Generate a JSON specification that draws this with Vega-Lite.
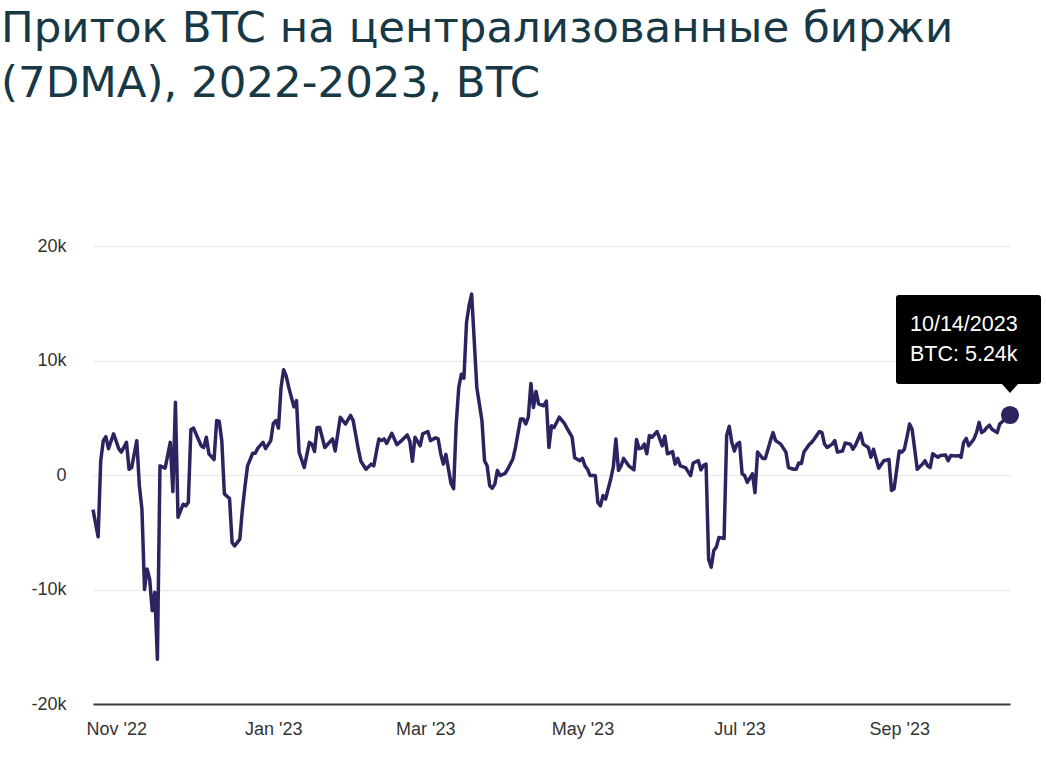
{
  "$schema": "https://vega.github.io/schema/vega-lite/v6.json",
  "autosize": "none",
  "width": 917,
  "height": 458,
  "padding": {"left": 93, "top": 246, "right": 36, "bottom": 54},
  "background": "white",
  "title": {
    "text": ["Приток BTC на централизованные биржи", "(7DMA), 2022-2023, BTC"],
    "anchor": "start",
    "frame": "group",
    "orient": "top",
    "baseline": "top",
    "font": "DejaVu Sans",
    "fontSize": 43.5,
    "fontWeight": 400,
    "lineHeight": 55,
    "color": "#173845",
    "dx": -92,
    "offset": 131
  },
  "datasets": {
    "flow": [
      {"date": "2022-10-23", "btc": -3030},
      {"date": "2022-10-25", "btc": -5400},
      {"date": "2022-10-26", "btc": 1250},
      {"date": "2022-10-27", "btc": 3000},
      {"date": "2022-10-28", "btc": 3350},
      {"date": "2022-10-29", "btc": 2300},
      {"date": "2022-10-31", "btc": 3600},
      {"date": "2022-11-02", "btc": 2300},
      {"date": "2022-11-03", "btc": 2000},
      {"date": "2022-11-05", "btc": 2850},
      {"date": "2022-11-06", "btc": 500},
      {"date": "2022-11-07", "btc": 650},
      {"date": "2022-11-09", "btc": 3000},
      {"date": "2022-11-10", "btc": -930},
      {"date": "2022-11-11", "btc": -3000},
      {"date": "2022-11-12", "btc": -10000},
      {"date": "2022-11-13", "btc": -8200},
      {"date": "2022-11-14", "btc": -9100},
      {"date": "2022-11-15", "btc": -11850},
      {"date": "2022-11-16", "btc": -10250},
      {"date": "2022-11-17", "btc": -16100},
      {"date": "2022-11-18", "btc": 800},
      {"date": "2022-11-20", "btc": 600},
      {"date": "2022-11-22", "btc": 2850},
      {"date": "2022-11-23", "btc": -1450},
      {"date": "2022-11-24", "btc": 6350},
      {"date": "2022-11-25", "btc": -3700},
      {"date": "2022-11-27", "btc": -2550},
      {"date": "2022-11-28", "btc": -2700},
      {"date": "2022-11-29", "btc": -2400},
      {"date": "2022-11-30", "btc": 3950},
      {"date": "2022-12-01", "btc": 4100},
      {"date": "2022-12-04", "btc": 2550},
      {"date": "2022-12-05", "btc": 2400},
      {"date": "2022-12-06", "btc": 3300},
      {"date": "2022-12-07", "btc": 1850},
      {"date": "2022-12-09", "btc": 1350},
      {"date": "2022-12-10", "btc": 4750},
      {"date": "2022-12-11", "btc": 4700},
      {"date": "2022-12-12", "btc": 3000},
      {"date": "2022-12-13", "btc": -1650},
      {"date": "2022-12-15", "btc": -2050},
      {"date": "2022-12-16", "btc": -5900},
      {"date": "2022-12-17", "btc": -6200},
      {"date": "2022-12-19", "btc": -5600},
      {"date": "2022-12-20", "btc": -3000},
      {"date": "2022-12-21", "btc": -1000},
      {"date": "2022-12-22", "btc": 800},
      {"date": "2022-12-24", "btc": 1900},
      {"date": "2022-12-25", "btc": 1900},
      {"date": "2022-12-26", "btc": 2350},
      {"date": "2022-12-28", "btc": 2850},
      {"date": "2022-12-29", "btc": 2300},
      {"date": "2022-12-31", "btc": 3000},
      {"date": "2023-01-01", "btc": 4500},
      {"date": "2023-01-02", "btc": 4750},
      {"date": "2023-01-03", "btc": 4100},
      {"date": "2023-01-04", "btc": 7650},
      {"date": "2023-01-05", "btc": 9200},
      {"date": "2023-01-06", "btc": 8650},
      {"date": "2023-01-07", "btc": 7650},
      {"date": "2023-01-09", "btc": 5950},
      {"date": "2023-01-10", "btc": 6500},
      {"date": "2023-01-11", "btc": 2000},
      {"date": "2023-01-13", "btc": 650},
      {"date": "2023-01-15", "btc": 2850},
      {"date": "2023-01-16", "btc": 2700},
      {"date": "2023-01-17", "btc": 2050},
      {"date": "2023-01-18", "btc": 4150},
      {"date": "2023-01-19", "btc": 4150},
      {"date": "2023-01-21", "btc": 2400},
      {"date": "2023-01-24", "btc": 3150},
      {"date": "2023-01-25", "btc": 2100},
      {"date": "2023-01-27", "btc": 5050},
      {"date": "2023-01-29", "btc": 4450},
      {"date": "2023-01-31", "btc": 5200},
      {"date": "2023-02-01", "btc": 4750},
      {"date": "2023-02-03", "btc": 2250},
      {"date": "2023-02-04", "btc": 1200},
      {"date": "2023-02-06", "btc": 500},
      {"date": "2023-02-08", "btc": 950},
      {"date": "2023-02-09", "btc": 800},
      {"date": "2023-02-10", "btc": 2000},
      {"date": "2023-02-11", "btc": 3150},
      {"date": "2023-02-12", "btc": 3000},
      {"date": "2023-02-13", "btc": 3150},
      {"date": "2023-02-14", "btc": 2750},
      {"date": "2023-02-16", "btc": 3650},
      {"date": "2023-02-18", "btc": 2650},
      {"date": "2023-02-20", "btc": 3050},
      {"date": "2023-02-22", "btc": 3500},
      {"date": "2023-02-23", "btc": 2950},
      {"date": "2023-02-24", "btc": 1200},
      {"date": "2023-02-25", "btc": 3300},
      {"date": "2023-02-27", "btc": 2550},
      {"date": "2023-02-28", "btc": 3600},
      {"date": "2023-03-02", "btc": 3800},
      {"date": "2023-03-03", "btc": 3000},
      {"date": "2023-03-05", "btc": 3250},
      {"date": "2023-03-06", "btc": 3150},
      {"date": "2023-03-07", "btc": 1850},
      {"date": "2023-03-08", "btc": 950},
      {"date": "2023-03-09", "btc": 1800},
      {"date": "2023-03-11", "btc": -750},
      {"date": "2023-03-12", "btc": -1200},
      {"date": "2023-03-13", "btc": 4450},
      {"date": "2023-03-14", "btc": 7650},
      {"date": "2023-03-15", "btc": 8800},
      {"date": "2023-03-16", "btc": 8450},
      {"date": "2023-03-17", "btc": 13300},
      {"date": "2023-03-18", "btc": 14800},
      {"date": "2023-03-19", "btc": 15800},
      {"date": "2023-03-20", "btc": 11750},
      {"date": "2023-03-21", "btc": 7650},
      {"date": "2023-03-23", "btc": 4750},
      {"date": "2023-03-24", "btc": 1250},
      {"date": "2023-03-25", "btc": 800},
      {"date": "2023-03-26", "btc": -930},
      {"date": "2023-03-27", "btc": -1150},
      {"date": "2023-03-28", "btc": -800},
      {"date": "2023-03-29", "btc": 400},
      {"date": "2023-03-30", "btc": -50},
      {"date": "2023-04-01", "btc": 150},
      {"date": "2023-04-02", "btc": 500},
      {"date": "2023-04-04", "btc": 1400},
      {"date": "2023-04-05", "btc": 2400},
      {"date": "2023-04-07", "btc": 4900},
      {"date": "2023-04-08", "btc": 4900},
      {"date": "2023-04-09", "btc": 4450},
      {"date": "2023-04-10", "btc": 5050},
      {"date": "2023-04-11", "btc": 8000},
      {"date": "2023-04-12", "btc": 5900},
      {"date": "2023-04-13", "btc": 7300},
      {"date": "2023-04-14", "btc": 6200},
      {"date": "2023-04-16", "btc": 6050},
      {"date": "2023-04-17", "btc": 6450},
      {"date": "2023-04-18", "btc": 2400},
      {"date": "2023-04-19", "btc": 4300},
      {"date": "2023-04-20", "btc": 4150},
      {"date": "2023-04-22", "btc": 5050},
      {"date": "2023-04-24", "btc": 4500},
      {"date": "2023-04-25", "btc": 4100},
      {"date": "2023-04-27", "btc": 3300},
      {"date": "2023-04-28", "btc": 1500},
      {"date": "2023-04-30", "btc": 1250},
      {"date": "2023-05-01", "btc": 1450},
      {"date": "2023-05-02", "btc": 800},
      {"date": "2023-05-03", "btc": 500},
      {"date": "2023-05-04", "btc": -50},
      {"date": "2023-05-06", "btc": -50},
      {"date": "2023-05-07", "btc": -2400},
      {"date": "2023-05-08", "btc": -2700},
      {"date": "2023-05-09", "btc": -1800},
      {"date": "2023-05-10", "btc": -2100},
      {"date": "2023-05-12", "btc": -350},
      {"date": "2023-05-13", "btc": 700},
      {"date": "2023-05-14", "btc": 3150},
      {"date": "2023-05-15", "btc": 400},
      {"date": "2023-05-16", "btc": 800},
      {"date": "2023-05-17", "btc": 1450},
      {"date": "2023-05-19", "btc": 800},
      {"date": "2023-05-21", "btc": 450},
      {"date": "2023-05-22", "btc": 3100},
      {"date": "2023-05-23", "btc": 2300},
      {"date": "2023-05-24", "btc": 2350},
      {"date": "2023-05-25", "btc": 2700},
      {"date": "2023-05-26", "btc": 1850},
      {"date": "2023-05-27", "btc": 3450},
      {"date": "2023-05-28", "btc": 3300},
      {"date": "2023-05-30", "btc": 3800},
      {"date": "2023-06-01", "btc": 2550},
      {"date": "2023-06-02", "btc": 3400},
      {"date": "2023-06-03", "btc": 1850},
      {"date": "2023-06-05", "btc": 2050},
      {"date": "2023-06-06", "btc": 950},
      {"date": "2023-06-07", "btc": 1450},
      {"date": "2023-06-08", "btc": 800},
      {"date": "2023-06-10", "btc": 650},
      {"date": "2023-06-12", "btc": -50},
      {"date": "2023-06-13", "btc": 1050},
      {"date": "2023-06-15", "btc": 1250},
      {"date": "2023-06-16", "btc": 450},
      {"date": "2023-06-17", "btc": 850},
      {"date": "2023-06-18", "btc": 950},
      {"date": "2023-06-19", "btc": -7350},
      {"date": "2023-06-20", "btc": -8050},
      {"date": "2023-06-21", "btc": -6600},
      {"date": "2023-06-22", "btc": -6300},
      {"date": "2023-06-23", "btc": -5450},
      {"date": "2023-06-25", "btc": -5550},
      {"date": "2023-06-26", "btc": 3450},
      {"date": "2023-06-27", "btc": 4250},
      {"date": "2023-06-28", "btc": 2850},
      {"date": "2023-06-29", "btc": 2100},
      {"date": "2023-06-30", "btc": 2700},
      {"date": "2023-07-01", "btc": 2850},
      {"date": "2023-07-02", "btc": 100},
      {"date": "2023-07-03", "btc": -50},
      {"date": "2023-07-04", "btc": -650},
      {"date": "2023-07-06", "btc": 100},
      {"date": "2023-07-07", "btc": -1550},
      {"date": "2023-07-08", "btc": 2000},
      {"date": "2023-07-10", "btc": 1450},
      {"date": "2023-07-11", "btc": 1450},
      {"date": "2023-07-13", "btc": 3000},
      {"date": "2023-07-14", "btc": 3700},
      {"date": "2023-07-15", "btc": 3000},
      {"date": "2023-07-17", "btc": 2700},
      {"date": "2023-07-19", "btc": 2000},
      {"date": "2023-07-20", "btc": 650},
      {"date": "2023-07-22", "btc": 500},
      {"date": "2023-07-23", "btc": 500},
      {"date": "2023-07-24", "btc": 1050},
      {"date": "2023-07-25", "btc": 1000},
      {"date": "2023-07-26", "btc": 2000},
      {"date": "2023-07-28", "btc": 2650},
      {"date": "2023-07-29", "btc": 2850},
      {"date": "2023-07-30", "btc": 3150},
      {"date": "2023-08-01", "btc": 3800},
      {"date": "2023-08-02", "btc": 3700},
      {"date": "2023-08-03", "btc": 2700},
      {"date": "2023-08-04", "btc": 2400},
      {"date": "2023-08-06", "btc": 2700},
      {"date": "2023-08-07", "btc": 3000},
      {"date": "2023-08-08", "btc": 2000},
      {"date": "2023-08-10", "btc": 2100},
      {"date": "2023-08-11", "btc": 2800},
      {"date": "2023-08-13", "btc": 2700},
      {"date": "2023-08-14", "btc": 2250},
      {"date": "2023-08-15", "btc": 2600},
      {"date": "2023-08-17", "btc": 3650},
      {"date": "2023-08-18", "btc": 2700},
      {"date": "2023-08-20", "btc": 2400},
      {"date": "2023-08-21", "btc": 1550},
      {"date": "2023-08-22", "btc": 2250},
      {"date": "2023-08-24", "btc": 600},
      {"date": "2023-08-26", "btc": 1250},
      {"date": "2023-08-28", "btc": 1350},
      {"date": "2023-08-29", "btc": -1350},
      {"date": "2023-08-30", "btc": -1200},
      {"date": "2023-09-01", "btc": 2100},
      {"date": "2023-09-02", "btc": 2000},
      {"date": "2023-09-03", "btc": 2250},
      {"date": "2023-09-04", "btc": 3300},
      {"date": "2023-09-05", "btc": 4450},
      {"date": "2023-09-06", "btc": 4000},
      {"date": "2023-09-08", "btc": 500},
      {"date": "2023-09-10", "btc": 950},
      {"date": "2023-09-11", "btc": 1250},
      {"date": "2023-09-12", "btc": 800},
      {"date": "2023-09-13", "btc": 650},
      {"date": "2023-09-14", "btc": 1850},
      {"date": "2023-09-16", "btc": 1550},
      {"date": "2023-09-17", "btc": 1700},
      {"date": "2023-09-19", "btc": 1750},
      {"date": "2023-09-20", "btc": 1250},
      {"date": "2023-09-21", "btc": 1700},
      {"date": "2023-09-23", "btc": 1650},
      {"date": "2023-09-24", "btc": 1700},
      {"date": "2023-09-25", "btc": 1550},
      {"date": "2023-09-26", "btc": 2850},
      {"date": "2023-09-27", "btc": 3200},
      {"date": "2023-09-28", "btc": 2550},
      {"date": "2023-09-30", "btc": 3150},
      {"date": "2023-10-01", "btc": 3700},
      {"date": "2023-10-02", "btc": 4600},
      {"date": "2023-10-03", "btc": 3700},
      {"date": "2023-10-04", "btc": 3850},
      {"date": "2023-10-05", "btc": 4150},
      {"date": "2023-10-06", "btc": 4350},
      {"date": "2023-10-07", "btc": 4000},
      {"date": "2023-10-09", "btc": 3700},
      {"date": "2023-10-10", "btc": 4450},
      {"date": "2023-10-14", "btc": 5240}
    ],
    "last": [
      {"date": "2023-10-14", "btc": 5240, "label": "10/14/2023\nBTC: 5.24k"}
    ]
  },
  "encoding": {
    "x": {
      "field": "date",
      "type": "temporal",
      "scale": {"type": "utc", "nice": false},
      "axis": {
        "title": null,
        "values": [
          {"year": 2022, "month": 11, "date": 1, "utc": true},
          {"year": 2023, "month": 1, "date": 1, "utc": true},
          {"year": 2023, "month": 3, "date": 1, "utc": true},
          {"year": 2023, "month": 5, "date": 1, "utc": true},
          {"year": 2023, "month": 7, "date": 1, "utc": true},
          {"year": 2023, "month": 9, "date": 1, "utc": true}
        ],
        "labelExpr": "utcFormat(datum.value, '%b \\'%y')",
        "grid": false,
        "ticks": false,
        "domain": true,
        "domainColor": "#3a3a3a",
        "domainWidth": 2,
        "labelFont": "Liberation Sans",
        "labelFontSize": 18,
        "labelColor": "#333333",
        "labelPadding": 16
      }
    },
    "y": {
      "field": "btc",
      "type": "quantitative",
      "scale": {"domain": [-20000, 20000], "nice": false, "zero": false},
      "axis": {
        "title": null,
        "values": [-20000, -10000, 0, 10000, 20000],
        "labelExpr": "datum.value == 0 ? '0' : (datum.value / 1000) + 'k'",
        "grid": true,
        "gridColor": "#ebebeb",
        "gridWidth": 1.5,
        "domain": false,
        "ticks": false,
        "labelFont": "Liberation Sans",
        "labelFontSize": 18,
        "labelColor": "#333333",
        "labelPadding": 27
      }
    }
  },
  "layer": [
    {
      "data": {"name": "flow"},
      "mark": {"type": "line", "color": "#2a2560", "strokeWidth": 3.5, "strokeJoin": "round", "interpolate": "linear"}
    },
    {
      "data": {"name": "last"},
      "mark": {
        "type": "point",
        "filled": true,
        "color": "#000000",
        "opacity": 1,
        "strokeWidth": 0,
        "size": 40000,
        "shape": "M-1.11,-1.2 L0.28,-1.2 Q0.31,-1.2 0.31,-1.17 L0.31,-0.34 Q0.31,-0.31 0.28,-0.31 L0.08,-0.31 L0,-0.22 L-0.08,-0.31 L-1.11,-0.31 Q-1.14,-0.31 -1.14,-0.34 L-1.14,-1.17 Q-1.14,-1.2 -1.11,-1.2 Z"
      }
    },
    {
      "data": {"name": "last"},
      "mark": {"type": "point", "filled": true, "color": "#2a2560", "opacity": 1, "size": 330, "strokeWidth": 0}
    },
    {
      "data": {"name": "last"},
      "mark": {
        "type": "text",
        "align": "left",
        "baseline": "alphabetic",
        "dx": -100,
        "dy": -84,
        "lineBreak": "\n",
        "lineHeight": 30,
        "font": "Liberation Sans",
        "fontSize": 21.5,
        "color": "#ffffff"
      },
      "encoding": {"text": {"field": "label"}}
    }
  ],
  "config": {
    "view": {"stroke": null}
  }
}
